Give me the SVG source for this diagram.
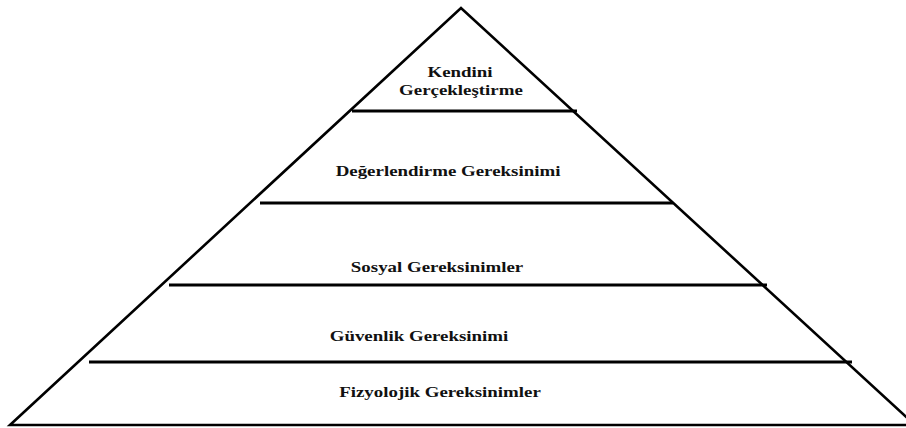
<svg xmlns="http://www.w3.org/2000/svg" width="906" height="428" viewBox="0 0 906 428">
  <style>
    .edge { stroke: #000; stroke-width: 2.6; fill: none; stroke-linecap: butt; }
    .tier { stroke: #000; stroke-width: 2.8; }
    .label { font-family: "Liberation Serif", "Times New Roman", serif; font-weight: bold; font-size: 14px; fill: #111; text-anchor: middle; }
  </style>
  <rect width="906" height="428" fill="#fff"/>
  <!-- pyramid outline -->
  <g id="outline">
    <path class="edge" d="M10,425 L461,8 L915,425 Z" stroke-linejoin="miter"/>
  </g>
  <!-- tier dividers -->
  <g id="connectors">
    <line class="tier" x1="352" y1="111" x2="577" y2="111"/>
    <line class="tier" x1="260" y1="203" x2="673" y2="203"/>
    <line class="tier" x1="169" y1="285" x2="767" y2="285"/>
    <line class="tier" x1="89" y1="362" x2="852" y2="362"/>
  </g>
  <g id="tier-self">
    <text class="label" transform="translate(460,77) scale(1.35,1)">Kendini</text>
    <text class="label" transform="translate(461,95) scale(1.35,1)">Gerçekleştirme</text>
  </g>
  <g id="tier-esteem">
    <text class="label" transform="translate(448,176) scale(1.35,1)">Değerlendirme Gereksinimi</text>
  </g>
  <g id="tier-social">
    <text class="label" transform="translate(437,272) scale(1.35,1)">Sosyal Gereksinimler</text>
  </g>
  <g id="tier-safety">
    <text class="label" transform="translate(419,341) scale(1.35,1)">Güvenlik Gereksinimi</text>
  </g>
  <g id="tier-physiological">
    <text class="label" transform="translate(440,397) scale(1.35,1)">Fizyolojik Gereksinimler</text>
  </g>
</svg>
